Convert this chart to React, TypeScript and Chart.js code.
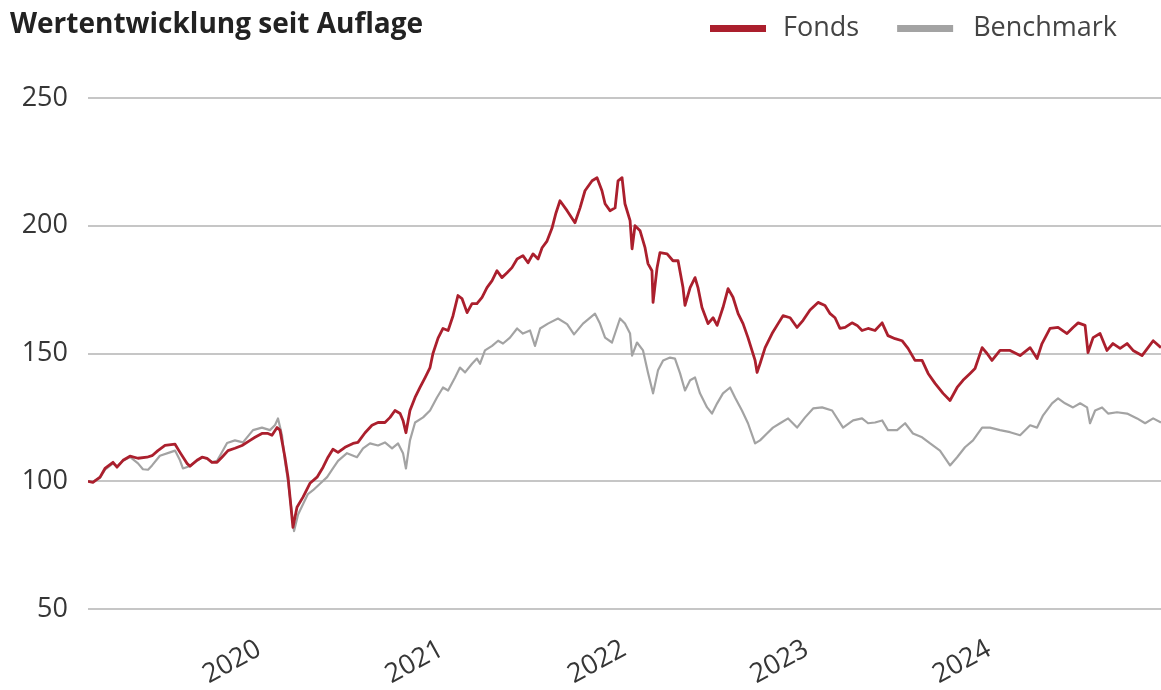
import React, { useEffect, useRef } from "react";
import { Chart, registerables } from "chart.js";

Chart.register(...registerables);

const TITLE = "Wertentwicklung seit Auflage";
const FONDS_LABEL = "Fonds";
const BENCH_LABEL = "Benchmark";
const YEAR_TICKS = [2020, 2021, 2022, 2023, 2024];
const Y_TICKS = [50, 100, 150, 200, 250];
const X_START = 2019.085;
const X_END = 2024.964;

// Fonds (decimal year / index value)
const fondsTimes = [
  2019.085, 2019.112, 2019.151, 2019.178, 2019.222, 2019.244, 2019.277, 2019.315, 2019.359, 2019.408,
  2019.436, 2019.468, 2019.507, 2019.562, 2019.589, 2019.627, 2019.644, 2019.682, 2019.710, 2019.737,
  2019.764, 2019.792, 2019.819, 2019.852, 2019.890, 2019.929, 2019.973, 2020.000, 2020.038, 2020.071,
  2020.093, 2020.121, 2020.137, 2020.164, 2020.181, 2020.208, 2020.230, 2020.263, 2020.301, 2020.340,
  2020.373, 2020.400, 2020.427, 2020.455, 2020.493, 2020.537, 2020.564, 2020.603, 2020.641, 2020.674,
  2020.712, 2020.740, 2020.767, 2020.795, 2020.811, 2020.827, 2020.849, 2020.877, 2020.904, 2020.932,
  2020.959, 2020.975, 2021.003, 2021.030, 2021.058, 2021.085, 2021.112, 2021.134, 2021.162, 2021.189,
  2021.216, 2021.244, 2021.271, 2021.299, 2021.326, 2021.353, 2021.381, 2021.408, 2021.436, 2021.468,
  2021.496, 2021.523, 2021.551, 2021.573, 2021.600, 2021.627, 2021.649, 2021.671, 2021.710, 2021.753,
  2021.781, 2021.808, 2021.847, 2021.874, 2021.901, 2021.918, 2021.945, 2021.973, 2021.989, 2022.011,
  2022.027, 2022.055, 2022.066, 2022.082, 2022.110, 2022.137, 2022.153, 2022.175, 2022.181, 2022.203,
  2022.219, 2022.258, 2022.290, 2022.318, 2022.345, 2022.356, 2022.384, 2022.411, 2022.427, 2022.449,
  2022.482, 2022.510, 2022.532, 2022.564, 2022.592, 2022.619, 2022.647, 2022.674, 2022.701, 2022.740,
  2022.751, 2022.767, 2022.795, 2022.833, 2022.866, 2022.893, 2022.932, 2022.970, 2023.003, 2023.041,
  2023.085, 2023.123, 2023.151, 2023.178, 2023.205, 2023.233, 2023.271, 2023.299, 2023.326, 2023.359,
  2023.397, 2023.436, 2023.468, 2023.507, 2023.545, 2023.578, 2023.616, 2023.655, 2023.688, 2023.726,
  2023.770, 2023.808, 2023.847, 2023.879, 2023.918, 2023.945, 2023.984, 2024.011, 2024.038, 2024.082,
  2024.137, 2024.192, 2024.247, 2024.285, 2024.312, 2024.356, 2024.400, 2024.449, 2024.482, 2024.510,
  2024.548, 2024.564, 2024.592, 2024.630, 2024.668, 2024.701, 2024.740, 2024.778, 2024.811, 2024.860,
  2024.893, 2024.921, 2024.964,
];
const fondsValues = [
  100, 99.6, 101.6, 105, 107.4, 105.5, 108.2, 109.8, 109, 109.4,
  110, 112, 114, 114.5, 111.3, 107, 105.9, 108.2, 109.4, 109,
  107.4, 107.4, 109.4, 112, 112.9, 114, 116, 117.2, 118.7, 118.7,
  118, 121, 120, 109.4, 101.6, 82, 89.8, 93.8, 99.2, 101.6,
  105.5, 109.4, 112.5, 111.3, 113.3, 114.8, 115.2, 119, 121.9, 123,
  123, 125, 127.7, 126.5, 123.8, 119, 127.7, 132.8, 136.7, 140.6,
  144.5, 150, 156, 159.8, 159, 164.8, 172.7, 171.5, 166, 169.5,
  169.5, 172, 175.8, 178.5, 182.4, 179.7, 181.6, 183.6, 187, 188.3,
  185.5, 189, 187, 191.4, 194, 199, 205, 209.8, 205.9, 201.2,
  207, 213.7, 217.6, 218.8, 213.7, 208.6, 205.9, 207, 217.6, 218.8,
  208.6, 202, 191, 200, 198, 191.4, 185.2, 182.4, 170, 183.6,
  189.5, 189, 186.3, 186.3, 175.8, 168.8, 175.8, 179.7, 175.8, 168,
  161.7, 164, 161, 168, 175.4, 172, 165.6, 161.7, 156.2, 147.3,
  142.6, 146, 152.3, 157.8, 161.7, 164.8, 164, 160.2, 163, 167,
  170, 168.8, 165.6, 164, 159.8, 160.2, 162, 161, 159, 159.8,
  159, 162, 157, 155.8, 155, 152, 147.3, 147.3, 142.2, 138.3,
  134.4, 131.6, 136.7, 139.5, 142.2, 144.1, 152.3, 150, 147.3, 151.2,
  151.2, 149.2, 152.3, 148, 153.9, 159.8, 160.2, 157.8, 160.2, 162,
  161, 150.4, 156.2, 157.8, 151.2, 153.9, 152, 153.9, 151.2, 149.2,
  152.3, 155, 152.3,
];

// Benchmark (decimal year / index value)
const benchTimes = [
  2019.085, 2019.112, 2019.151, 2019.178, 2019.222, 2019.244, 2019.277, 2019.315, 2019.359, 2019.386,
  2019.414, 2019.436, 2019.479, 2019.534, 2019.562, 2019.589, 2019.605, 2019.644, 2019.682, 2019.710,
  2019.737, 2019.764, 2019.792, 2019.808, 2019.847, 2019.890, 2019.934, 2019.989, 2020.038, 2020.082,
  2020.110, 2020.126, 2020.148, 2020.164, 2020.181, 2020.214, 2020.236, 2020.263, 2020.290, 2020.318,
  2020.356, 2020.395, 2020.427, 2020.455, 2020.504, 2020.559, 2020.592, 2020.630, 2020.674, 2020.712,
  2020.751, 2020.784, 2020.811, 2020.827, 2020.849, 2020.877, 2020.921, 2020.959, 2020.997, 2021.030,
  2021.058, 2021.096, 2021.123, 2021.151, 2021.189, 2021.216, 2021.233, 2021.260, 2021.299, 2021.332,
  2021.359, 2021.397, 2021.436, 2021.468, 2021.507, 2021.534, 2021.562, 2021.605, 2021.660, 2021.710,
  2021.748, 2021.797, 2021.863, 2021.890, 2021.918, 2021.956, 2022.000, 2022.027, 2022.055, 2022.066,
  2022.093, 2022.126, 2022.153, 2022.181, 2022.208, 2022.236, 2022.274, 2022.301, 2022.329, 2022.356,
  2022.384, 2022.411, 2022.438, 2022.477, 2022.504, 2022.532, 2022.564, 2022.603, 2022.630, 2022.668,
  2022.701, 2022.740, 2022.767, 2022.805, 2022.838, 2022.877, 2022.921, 2022.970, 2023.014, 2023.058,
  2023.107, 2023.162, 2023.222, 2023.277, 2023.326, 2023.359, 2023.397, 2023.436, 2023.468, 2023.518,
  2023.562, 2023.605, 2023.655, 2023.699, 2023.753, 2023.808, 2023.847, 2023.890, 2023.934, 2023.984,
  2024.027, 2024.082, 2024.137, 2024.192, 2024.247, 2024.285, 2024.318, 2024.367, 2024.400, 2024.438,
  2024.482, 2024.521, 2024.559, 2024.575, 2024.603, 2024.641, 2024.674, 2024.723, 2024.778, 2024.833,
  2024.877, 2024.921, 2024.964,
];
const benchValues = [
  100, 99.8, 101.4, 104.5, 107, 105.8, 108, 109.5, 107, 104.7,
  104.5, 106.2, 110, 111.3, 112, 108.2, 105, 106, 108, 109.4,
  108.8, 107.5, 108, 110, 115, 116, 115.2, 120, 121, 120,
  122, 124.6, 118, 108, 100, 80.5, 87, 91, 95, 96.5,
  99, 101.6, 105, 108, 111, 109.4, 112.9, 114.8, 114, 115.2,
  112.9, 114.8, 111, 105, 116, 123, 125, 127.7, 132.8, 136.7,
  135.5, 140.6, 144.5, 142.6, 146, 148, 146, 151.2, 153, 155,
  153.9, 156.2, 159.8, 157.8, 159, 153, 159.8, 161.7, 163.7, 161.5,
  157.5, 161.7, 165.6, 161.7, 156.2, 154.3, 163.7, 161.7, 157.8, 149.2,
  154.3, 151.2, 142.6, 134.4, 143.4, 147.3, 148.4, 148, 142.2, 135.5,
  139.5, 140.6, 134.4, 128.9, 126.5, 130.5, 134.4, 136.7, 132.8, 127.7,
  122.7, 114.8, 116, 118.7, 121, 122.7, 124.6, 121, 125, 128.5,
  128.9, 127.7, 121, 123.8, 124.6, 122.7, 123, 123.8, 120, 120,
  122.7, 118.7, 117.2, 114.8, 112, 106.2, 109.4, 113.3, 116, 121,
  121, 120, 119.2, 118, 121.9, 121, 125.8, 130.5, 132.4, 130.5,
  128.9, 130.5, 128.9, 122.7, 127.7, 128.9, 126.5, 127, 126.5, 124.6,
  122.7, 124.6, 123,
];

const RED = "#ab1f2d";
const GRAY = "#a3a3a3";
const GRID = "#c6c6c6";
const TEXT = "#363636";
const FONT = '"Open Sans", "Noto Sans", sans-serif';

const headerPlugin = {
  id: "header",
  afterDraw(chart: any) {
    const ctx = chart.ctx as CanvasRenderingContext2D;
    ctx.save();
    ctx.textAlign = "left";
    ctx.textBaseline = "alphabetic";
    ctx.fillStyle = "#222222";
    ctx.font = `bold 28px ${FONT}`;
    ctx.fillText(TITLE, 10, 33);

    ctx.font = `27px ${FONT}`;
    const ds = chart.data.datasets;
    const w1 = ctx.measureText(ds[0].label).width;
    const w2 = ctx.measureText(ds[1].label).width;
    const text2Start = 1117 - w2;
    const marker2Start = text2Start - 20 - 56;
    const text1Start = marker2Start - 38 - w1;
    const marker1Start = text1Start - 17 - 56;
    ctx.fillStyle = ds[0].borderColor;
    ctx.fillRect(marker1Start, 25, 56, 7);
    ctx.fillStyle = ds[1].borderColor;
    ctx.fillRect(marker2Start, 25, 56, 7);
    ctx.fillStyle = "#444444";
    ctx.fillText(ds[0].label, text1Start, 36);
    ctx.fillText(ds[1].label, text2Start, 36);
    ctx.restore();
  },
};

export default function App() {
  const canvasRef = useRef<HTMLCanvasElement | null>(null);

  useEffect(() => {
    if (!canvasRef.current) return;
    const chart = new Chart(canvasRef.current, {
      type: "line",
      data: {
        datasets: [
          {
            label: FONDS_LABEL,
            data: fondsTimes.map((t, i) => ({ x: t, y: fondsValues[i] })),
            borderColor: RED,
            backgroundColor: RED,
            borderWidth: 2.8,
            pointRadius: 0,
            tension: 0,
            borderJoinStyle: "round",
          },
          {
            label: BENCH_LABEL,
            data: benchTimes.map((t, i) => ({ x: t, y: benchValues[i] })),
            borderColor: GRAY,
            backgroundColor: GRAY,
            borderWidth: 2.2,
            pointRadius: 0,
            tension: 0,
            borderJoinStyle: "round",
          },
        ],
      },
      options: {
        animation: false,
        responsive: true,
        maintainAspectRatio: false,
        layout: { padding: { top: 98, left: 0, right: 0, bottom: 0 } },
        plugins: {
          legend: { display: false },
          title: { display: false },
          tooltip: { enabled: false },
        },
        scales: {
          x: {
            type: "linear",
            min: X_START,
            max: X_END,
            grid: { display: false },
            border: { display: false },
            afterBuildTicks: (scale: any) => {
              scale.ticks = YEAR_TICKS.map((v) => ({ value: v }));
            },
            afterFit: (scale: any) => {
              scale.height = 81;
            },
            ticks: {
              autoSkip: false,
              minRotation: 29,
              maxRotation: 29,
              padding: 16,
              labelOffset: 4,
              color: TEXT,
              font: { family: FONT, size: 27 },
              callback: (v: any) => String(v),
            },
          },
          y: {
            min: 50,
            max: 250,
            afterBuildTicks: (scale: any) => {
              scale.ticks = Y_TICKS.map((v) => ({ value: v }));
            },
            afterFit: (scale: any) => {
              scale.width = 88;
            },
            grid: { color: GRID, lineWidth: 2, drawTicks: false },
            border: { display: false },
            ticks: {
              padding: 20,
              color: TEXT,
              font: { family: FONT, size: 27 },
            },
          },
        },
      },
      plugins: [headerPlugin],
    });
    return () => chart.destroy();
  }, []);

  return (
    <div style={{ position: "absolute", left: 0, top: 0, width: 1161, height: 690, background: "#fff" }}>
      <canvas ref={canvasRef} />
    </div>
  );
}
